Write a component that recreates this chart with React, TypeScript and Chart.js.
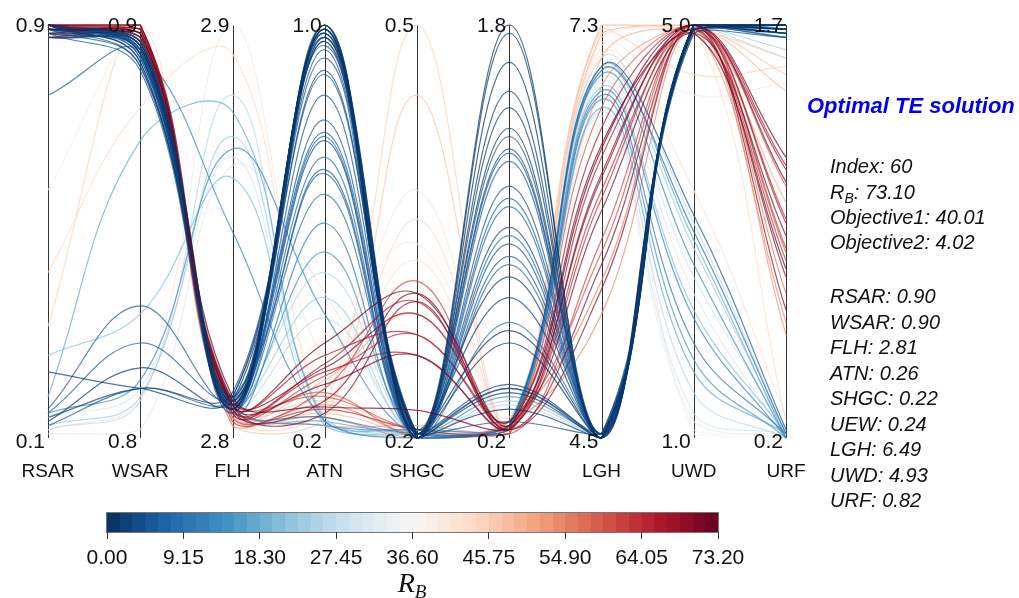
import React, { useEffect, useRef } from 'react';
import { Chart, registerables } from 'chart.js';

Chart.register(...registerables);

const axisNames = ['RSAR', 'WSAR', 'FLH', 'ATN', 'SHGC', 'UEW', 'LGH', 'UWD', 'URF'];
const axisTopLabels = ['0.9', '0.9', '2.9', '1.0', '0.5', '1.8', '7.3', '5.0', '1.7'];
const axisBottomLabels = ['0.1', '0.8', '2.8', '0.2', '0.2', '0.2', '4.5', '1.0', '0.2'];

// Each solution: position on every axis in % of that axis' range (0 = bottom label, 100 = top label)
const solutions: number[][] = [
  // blue family -> LGH low, URF high
  [100, 96, 8, 100, 1, 100, 0, 100, 100],
  [100, 95, 7, 99, 0, 98, 1, 100, 99],
  [99, 97, 9, 99, 1, 91, 0, 99, 100],
  [100, 94, 8, 98, 0, 84, 0, 100, 98],
  [98, 93, 6, 97, 2, 80, 1, 100, 99],
  [100, 96, 10, 96, 0, 75, 0, 100, 100],
  [99, 95, 7, 94, 1, 73, 0, 98, 97],
  [100, 92, 8, 89, 0, 70, 1, 100, 99],
  [97, 94, 9, 88, 1, 69, 0, 100, 100],
  [100, 91, 7, 83, 0, 67, 0, 99, 98],
  [83, 93, 8, 77, 1, 61, 1, 100, 99],
  [99, 90, 10, 74, 2, 58, 0, 100, 100],
  [100, 93, 9, 73, 0, 56, 0, 100, 97],
  [98, 89, 8, 72, 1, 51, 1, 99, 99],
  [100, 95, 7, 68, 0, 49, 0, 100, 100],
  [7, 32, 9, 65, 1, 47, 0, 100, 98],
  [6, 23, 10, 64, 0, 44, 1, 100, 99],
  [99, 92, 8, 59, 2, 42, 0, 98, 100],
  [16, 12, 10, 100, 0, 39, 0, 100, 100],
  [5, 12, 11, 98, 1, 34, 0, 100, 99],
  [100, 94, 6, 52, 0, 28, 1, 100, 97],
  [4, 17, 9, 97, 1, 26, 0, 99, 100],
  [98, 96, 7, 99, 0, 23, 0, 100, 98],
  [100, 93, 8, 100, 1, 13, 0, 100, 100],
  [99, 95, 9, 96, 0, 12, 1, 100, 99],
  [3, 12, 10, 95, 1, 12, 0, 100, 98],
  [100, 91, 7, 99, 0, 11, 0, 99, 100],
  [98, 94, 8, 45, 1, 10, 1, 100, 99],
  [100, 96, 9, 34, 0, 9, 0, 100, 94],
  [99, 92, 8, 29, 1, 8, 0, 100, 92],
  [97, 95, 7, 100, 0, 7, 0, 100, 100],
  [100, 90, 10, 98, 1, 4, 1, 100, 99],
  // blue family -> LGH high, URF low
  [2, 9, 83, 3, 1, 2, 92, 52, 1],
  [10, 72, 79, 4, 2, 3, 90, 48, 0],
  [3, 10, 73, 5, 1, 2, 89, 46, 1],
  [6, 14, 70, 30, 0, 3, 88, 42, 0],
  [5, 12, 68, 4, 2, 1, 87, 39, 2],
  [1, 2, 66, 35, 1, 2, 86, 35, 0],
  [20, 30, 63, 3, 1, 4, 85, 31, 1],
  [99, 94, 50, 4, 0, 3, 84, 29, 0],
  [100, 95, 8, 5, 1, 2, 83, 23, 1],
  [98, 93, 9, 3, 2, 3, 82, 19, 0],
  [99, 96, 7, 4, 1, 2, 80, 16, 1],
  [100, 92, 10, 40, 0, 4, 79, 11, 0],
  [97, 94, 8, 4, 1, 3, 78, 6, 1],
  [98, 95, 9, 3, 0, 2, 76, 4, 0],
  [100, 93, 8, 92, 1, 3, 90, 54, 2],
  [99, 94, 7, 97, 0, 2, 89, 50, 1],
  // red family
  [100, 100, 10, 7.5, 6.7, 2.5, 71, 98, 41],
  [99, 98, 8, 23, 35, 3, 70, 100, 68],
  [100, 97, 7, 18, 33, 2, 64, 99, 65],
  [98, 99, 9, 17, 30, 4, 63, 100, 62],
  [100, 96, 6, 15, 25, 3, 58, 100, 53],
  [99, 98, 8, 13, 20, 2, 55, 98, 49],
  [100, 100, 5, 12, 38, 1, 48, 100, 46],
  [97, 97, 9, 10, 2, 3, 45, 100, 45],
  [100, 99, 7, 9, 35, 2, 42, 99, 39],
  [99, 96, 3, 8, 1, 4, 38, 100, 35],
  [100, 98, 8, 6, 33, 2, 36, 100, 31],
  [98, 100, 6, 5, 0, 3, 30, 99, 28],
  [100, 97, 9, 3, 3, 1, 85, 100, 25],
  [99, 99, 7, 11, 0, 2, 80, 100, 61],
  [100, 96, 5, 14, 30, 3, 92, 98, 57],
  [97, 98, 8, 20, 25, 4, 75, 100, 66],
  [100, 100, 6, 16, 20, 2, 68, 100, 52],
  [99, 97, 4, 7, 2, 1, 60, 99, 43],
  // pale / pink family
  [27, 100, 5, 8, 100, 2, 99, 88, 90],
  [2, 10, 100, 20, 60, 3, 95, 83, 86],
  [40, 80, 93, 10, 53, 5, 97, 100, 4],
  [100, 100, 3, 5, 83, 2, 100, 99, 92],
  [98, 99, 5, 12, 43, 4, 93, 60, 5],
  [60, 98, 8, 25, 47, 3, 96, 2, 1],
  [100, 97, 6, 15, 0, 2, 98, 1, 0],
  [99, 96, 7, 9, 2, 3, 100, 100, 88],
  [100, 99, 4, 6, 1, 1, 98, 100, 84],
];

const rBValues: number[] = [
  0.5, 1.5, 1.0, 2.5, 3.0, 0.3, 4.0, 4.5, 5.0, 6.0, 5.5, 6.5, 7.0, 3.5, 8.0, 6.0,
  7.5, 9.0, 2.0, 3.0, 10.0, 1.5, 1.0, 2.5, 4.0, 5.0, 1.2, 14.0, 24.0, 26.0, 0.4, 3.5,
  27.0, 18.0, 23.0, 13.0, 29.0, 31.0, 21.0, 12.0, 10.0, 15.0, 17.0, 26.0, 30.0, 33.0, 5.0, 8.0,
  73.1, 72.0, 68.0, 71.0, 64.0, 71.5, 62.0, 60.0, 70.0, 56.0, 69.0, 54.0, 52.0, 58.0, 49.0, 66.0, 67.0, 63.0,
  45.0, 40.0, 44.0, 47.0, 42.0, 39.0, 37.5, 46.0, 48.0,
];

const rBMin = 0;
const rBMax = 73.2;
const colorbarTickLabels = ['0.00', '9.15', '18.30', '27.45', '36.60', '45.75', '54.90', '64.05', '73.20'];
const colorbarSteps = 48;

const optimalTitle = 'Optimal TE solution';
const optimalSummary = [
  { key: 'Index', value: '60' },
  { key: 'R_B', value: '73.10' },
  { key: 'Objective1', value: '40.01' },
  { key: 'Objective2', value: '4.02' },
];
const optimalParams = [
  { key: 'RSAR', value: '0.90' },
  { key: 'WSAR', value: '0.90' },
  { key: 'FLH', value: '2.81' },
  { key: 'ATN', value: '0.26' },
  { key: 'SHGC', value: '0.22' },
  { key: 'UEW', value: '0.24' },
  { key: 'LGH', value: '6.49' },
  { key: 'UWD', value: '4.93' },
  { key: 'URF', value: '0.82' },
];

const rdbuStops = ['#053061', '#2166ac', '#4393c3', '#92c5de', '#d1e5f0', '#f7f7f7', '#fddbc7', '#f4a582', '#d6604d', '#b2182b', '#67001f'];

function hexToRgb(h: string) {
  return [parseInt(h.slice(1, 3), 16), parseInt(h.slice(3, 5), 16), parseInt(h.slice(5, 7), 16)];
}

function cmapRgb(t: number) {
  const tt = Math.max(0, Math.min(1, t));
  const p = tt * (rdbuStops.length - 1);
  const i = Math.min(rdbuStops.length - 2, Math.floor(p));
  const f = p - i;
  const a = hexToRgb(rdbuStops[i]);
  const b = hexToRgb(rdbuStops[i + 1]);
  return [0, 1, 2].map((k) => Math.round(a[k] + (b[k] - a[k]) * f));
}

function quantColor(v: number, alpha = 1) {
  const t = (v - rBMin) / (rBMax - rBMin);
  const idx = Math.max(0, Math.min(colorbarSteps - 1, Math.floor(t * colorbarSteps)));
  const c = cmapRgb((idx + 0.5) / colorbarSteps);
  return `rgba(${c[0]},${c[1]},${c[2]},${alpha})`;
}

const FONT = '"Liberation Sans", Arial, sans-serif';

const axesPlugin = {
  id: 'parallelAxes',
  beforeDatasetsDraw(chart: any) {
    const { ctx } = chart;
    const xs = chart.scales.x;
    const ys = chart.scales.y;
    const top = ys.getPixelForValue(1);
    const bottom = ys.getPixelForValue(0);
    ctx.save();
    ctx.strokeStyle = '#333';
    ctx.lineWidth = 1;
    axisNames.forEach((_, i) => {
      const x = Math.round(xs.getPixelForValue(i)) + 0.5;
      ctx.beginPath();
      ctx.moveTo(x, top);
      ctx.lineTo(x, bottom);
      ctx.stroke();
    });
    ctx.restore();
  },
  afterDatasetsDraw(chart: any) {
    const { ctx } = chart;
    const xs = chart.scales.x;
    const ys = chart.scales.y;
    const top = ys.getPixelForValue(1);
    const bottom = ys.getPixelForValue(0);
    ctx.save();
    ctx.fillStyle = '#111';
    ctx.textBaseline = 'alphabetic';
    axisNames.forEach((name, i) => {
      const x = xs.getPixelForValue(i);
      ctx.font = `21px ${FONT}`;
      ctx.textAlign = 'right';
      ctx.fillText(axisTopLabels[i], x - 3, top + 7);
      ctx.fillText(axisBottomLabels[i], x - 3, bottom + 10);
      ctx.font = `19px ${FONT}`;
      ctx.textAlign = 'center';
      ctx.fillText(name, x, bottom + 39);
    });
    ctx.restore();
  },
};

function ParallelChart() {
  const ref = useRef<HTMLCanvasElement | null>(null);
  useEffect(() => {
    if (!ref.current) return;
    const order = solutions
      .map((_, i) => i)
      .sort((a, b) => Math.abs(rBValues[b] - 36.6) - Math.abs(rBValues[a] - 36.6));
    const datasets = order.map((i) => ({
      label: `S${i}`,
      data: solutions[i].map((v) => v / 100),
      borderColor: quantColor(rBValues[i], 0.72),
      borderWidth: 1.2,
      fill: false,
      pointRadius: 0,
      clip: 4,
    }));
    const chart = new Chart(ref.current, {
      type: 'line',
      data: { labels: axisNames, datasets },
      options: {
        responsive: false,
        animation: false,
        events: [],
        layout: { padding: { left: 48, right: 233, top: 25, bottom: 160 } },
        scales: {
          x: { type: 'category', display: false, offset: false },
          y: { type: 'linear', display: false, min: 0, max: 1 },
        },
        elements: {
          point: { radius: 0 },
          line: { tension: 0.4, capBezierPoints: true },
        },
        plugins: { legend: { display: false }, tooltip: { enabled: false } },
      },
      plugins: [axesPlugin],
    } as any);
    return () => chart.destroy();
  }, []);
  return <canvas ref={ref} width={1019} height={598} style={{ position: 'absolute', left: 0, top: 0, width: 1019, height: 598 }} />;
}

function Colorbar() {
  const left = 107;
  const right = 718;
  const top = 513;
  const h = 19;
  const w = right - left;
  const segs = Array.from({ length: colorbarSteps }, (_, i) => i);
  return (
    <>
      {segs.map((i) => {
        const c = cmapRgb((i + 0.5) / colorbarSteps);
        const x0 = left + (w * i) / colorbarSteps;
        const x1 = left + (w * (i + 1)) / colorbarSteps;
        return (
          <div
            key={i}
            style={{ position: 'absolute', left: x0, top, width: x1 - x0 + 0.6, height: h, background: `rgb(${c[0]},${c[1]},${c[2]})` }}
          />
        );
      })}
      <div style={{ position: 'absolute', left: left - 1, top: top - 1, width: w, height: h, border: '1px solid #777' }} />
      {colorbarTickLabels.map((lab, i) => {
        const x = left + (w * i) / (colorbarTickLabels.length - 1);
        return (
          <React.Fragment key={lab}>
            <div style={{ position: 'absolute', left: x - 0.5, top: top + h, width: 1, height: 7, background: '#333' }} />
            <div
              style={{
                position: 'absolute',
                left: x - 50,
                width: 100,
                top: 546,
                textAlign: 'center',
                font: `21px ${FONT}`,
                lineHeight: 1,
                color: '#111',
              }}
            >
              {lab}
            </div>
          </React.Fragment>
        );
      })}
      <div
        style={{
          position: 'absolute',
          left: 312,
          width: 200,
          top: 569,
          textAlign: 'center',
          fontFamily: '"Liberation Serif", "Times New Roman", serif',
          fontStyle: 'italic',
          fontSize: 28,
          lineHeight: 1,
          color: '#111',
        }}
      >
        R<sub style={{ fontSize: 19, verticalAlign: '-6px', lineHeight: 0 }}>B</sub>
      </div>
    </>
  );
}

function InfoPanel() {
  const textStyle = (top: number) => ({
    position: 'absolute' as const,
    left: 830,
    top,
    font: `italic 20px ${FONT}`,
    lineHeight: 1,
    color: '#111',
    whiteSpace: 'nowrap' as const,
  });
  const summaryTops = [156, 181.5, 207, 232];
  const paramTops = [286, 311.5, 337, 362.5, 388, 413.5, 439, 464.5, 490];
  return (
    <>
      <div
        style={{
          position: 'absolute',
          left: 807,
          top: 95,
          font: `italic bold 22px ${FONT}`,
          lineHeight: 1,
          color: '#0000ee',
          whiteSpace: 'nowrap',
        }}
      >
        {optimalTitle}
      </div>
      {optimalSummary.map((r, i) => (
        <div key={r.key} style={textStyle(summaryTops[i])}>
          {r.key === 'R_B' ? (
            <>
              R<sub style={{ fontSize: 14, verticalAlign: '-4px', lineHeight: 0 }}>B</sub>: {r.value}
            </>
          ) : (
            `${r.key}: ${r.value}`
          )}
        </div>
      ))}
      {optimalParams.map((r, i) => (
        <div key={r.key} style={textStyle(paramTops[i])}>
          {`${r.key}: ${r.value}`}
        </div>
      ))}
    </>
  );
}

export default function App() {
  return (
    <div style={{ position: 'absolute', left: 0, top: 0, width: 1019, height: 598, background: '#fff', overflow: 'hidden' }}>
      <ParallelChart />
      <Colorbar />
      <InfoPanel />
    </div>
  );
}
